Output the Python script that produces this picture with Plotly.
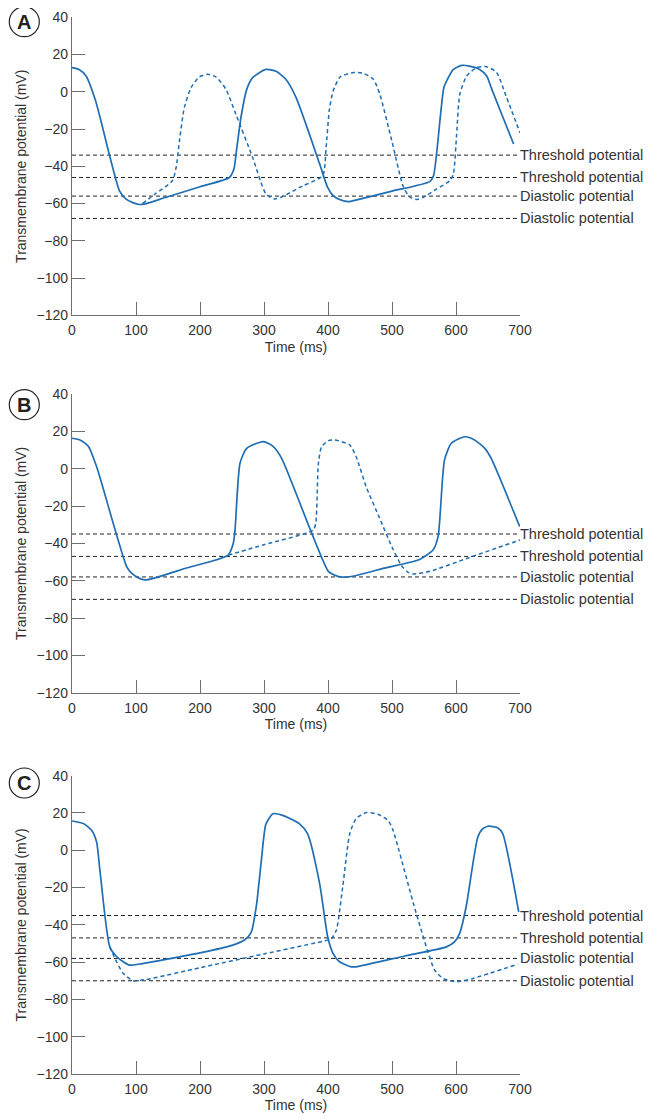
import plotly.graph_objects as go

# ---------------- data ----------------
# Panel A
a_solid_t = [0, 11, 22, 37, 74, 84, 95, 105, 116, 147, 200, 246, 253, 257, 264, 273, 282, 303, 319, 334, 350,
             387, 399, 408, 419, 432, 445, 500, 559, 565, 581, 588, 596, 609, 621, 637, 648, 656, 690]
a_solid_v = [13, 12, 8.5, -5, -53, -57.5, -59.5, -60.5, -60, -56.6, -51, -46, -41.5, -31.6, -13.8, 1.3, 7.5, 12, 11,
             6.7, -3, -38.8, -51, -55.7, -58, -59, -58, -53.3, -48.2, -45, 2.2, 7.6, 12, 14.2, 13.8, 12, 8.5, 1.3, -28]
a_dash_t = [110, 130, 157, 163, 168, 175.5, 186, 199, 212, 225, 240.6, 256, 282, 303, 316, 326.6, 360, 391.7, 397,
            402, 408, 419, 440, 455, 471, 481, 499.5, 517.7, 528, 539, 549, 570, 590.6, 596, 601, 606, 616.7, 632,
            648, 663.6, 679, 700]
a_dash_v = [-60, -54.8, -47.7, -40, -26, -8.5, 2.2, 8, 9.4, 8, 1.3, -12, -35, -54.8, -57.5, -56.6, -50.6, -45, -30,
            -10, 0.4, 8, 10.4, 9.9, 6.7, -1.3, -26, -51, -56.6, -57.8, -56.6, -52.1, -47.7, -44, -22.7, -1.3, 8.5,
            13, 13.5, 10.3, -3, -22]
a_levels = [-34, -46, -56, -68]

# Panel B
b_solid_t = [0, 12.5, 25.5, 38.5, 85.4, 93, 104, 114, 127, 180, 244, 252, 254.7, 262.5, 273, 299, 314.6, 327.6,
             400.5, 410, 418, 434, 490, 543, 564, 572, 582, 592.7, 613.5, 629, 645, 655, 699.5]
b_solid_v = [16.3, 15.4, 12, 1, -52.5, -56, -58.5, -59.6, -58.8, -53.1, -46.3, -40, -33, 2.9, 10.9, 14.5, 11.8, 5.5,
             -55, -57, -57.9, -57.9, -53.1, -48.6, -43.6, -36.4, 4.6, 13.6, 17.1, 15.4, 10.9, 5.5, -31]
b_dash_t = [244, 300, 377, 381, 385, 390, 400.5, 410.4, 434, 444, 460, 480, 500, 515, 525, 533, 559, 620, 700]
b_dash_v = [-46.3, -40.7, -32.9, -29, 2.9, 11.8, 15, 15.4, 12.7, 6.4, -10, -26, -42, -52, -55.5, -56.4, -55, -47.7,
            -38.2]
b_levels = [-35, -47, -58, -70]

# Panel C
c_solid_t = [0, 17.7, 30.6, 38.4, 43.6, 59, 69.6, 80, 90, 106, 200, 250, 270, 280, 288, 296, 303, 314, 329, 355,
             368, 387, 399.5, 408, 418, 436.5, 444, 520, 585, 598, 605.7, 616, 634, 642, 650, 665.6, 673, 698]
c_solid_v = [15.7, 14.3, 10.7, 4.5, -10.7, -51.8, -57, -59.8, -61.6, -61, -55, -51, -48, -44, -30, -5, 14, 19.6,
             18.75, 14.3, 8.9, -18, -46.4, -55.4, -59.8, -62.5, -62.5, -56.7, -51.8, -49, -44.6, -30, 7, 11.6, 12.9,
             12, 8.9, -33]
c_dash_t = [59, 70, 80, 95.6, 116, 200, 300, 399.5, 405, 413, 423, 434, 444, 460, 478, 494, 501.6, 538, 566.7, 580,
            600.5, 626.6, 697]
c_dash_v = [-51.8, -60, -66, -70, -69.3, -63, -55.6, -48.2, -47.5, -42.9, -19.6, 8.9, 17, 20.2, 19.3, 16, 10.7, -34,
            -64.3, -68.75, -70.5, -68.75, -61]
c_levels = [-35, -47, -58, -70]

level_labels = ["Threshold potential", "Threshold potential", "Diastolic potential", "Diastolic potential"]
panel_letters = ["A", "B", "C"]
x_ticks = [0, 100, 200, 300, 400, 500, 600, 700]
y_ticks = [40, 20, 0, -20, -40, -60, -80, -100, -120]

# ---------------- layout geometry ----------------
# the page body adds an 8px margin, so the figure is 8px smaller and all pixel positions are shifted by 8
OFF = 8
W, H = 651 - OFF, 1119 - OFF
ML, MR, MT, MB = 72 - OFF, 131, 17 - OFF, 45
PH = H - MT - MB
PW = W - ML - MR
panel_px = [(17.3, 315.3), (394, 692.7), (775.7, 1074)]  # top, bottom in page pixels
circle_px = [(24.3, 21.7), (24.3, 404.7), (24.3, 783)]


def py_to_paper(p):
    return (H - MB - (p - OFF)) / PH


def px_to_paper(p):
    return (p - OFF - ML) / PW


BLUE = "#1f6db3"
AXIS = "#6e6e6e"
TXT = "#333333"
FONT = "Liberation Sans, Arial, sans-serif"

fig = go.Figure()
panels = [
    (a_solid_t, a_solid_v, a_dash_t, a_dash_v, a_levels),
    (b_solid_t, b_solid_v, b_dash_t, b_dash_v, b_levels),
    (c_solid_t, c_solid_v, c_dash_t, c_dash_v, c_levels),
]

annotations = []
shapes = []
for i, (st, sv, dt, dv, levels) in enumerate(panels):
    xa = "x" if i == 0 else f"x{i+1}"
    ya = "y" if i == 0 else f"y{i+1}"
    for lv, lab in zip(levels, level_labels):
        fig.add_trace(go.Scatter(x=[0, 697], y=[lv, lv], mode="lines", xaxis=xa, yaxis=ya,
                                 line=dict(color="#222222", width=1, dash="4px,3px"),
                                 showlegend=False, hoverinfo="skip"))
        annotations.append(dict(x=700, y=lv, xref=xa, yref=ya, text=lab, showarrow=False,
                                xanchor="left", yanchor="middle", xshift=-2,
                                font=dict(size=14.5, color=TXT, family=FONT)))
    fig.add_trace(go.Scatter(x=dt, y=dv, mode="lines", xaxis=xa, yaxis=ya,
                             line=dict(color=BLUE, width=1.5, dash="4px,3px", shape="spline", smoothing=0.6),
                             showlegend=False))
    fig.add_trace(go.Scatter(x=st, y=sv, mode="lines", xaxis=xa, yaxis=ya,
                             line=dict(color=BLUE, width=1.7, shape="spline", smoothing=0.6),
                             showlegend=False))

    top, bot = panel_px[i]
    dom = [py_to_paper(bot), py_to_paper(top)]
    axis_common = dict(showline=True, linecolor=AXIS, linewidth=1.3, ticks="inside", ticklen=13,
                       tickcolor=AXIS, tickwidth=1.3, showgrid=False, zeroline=False, automargin=False,
                       tickfont=dict(size=14, color=TXT, family=FONT))
    xkey = "xaxis" if i == 0 else f"xaxis{i+1}"
    ykey = "yaxis" if i == 0 else f"yaxis{i+1}"
    fig.update_layout({
        xkey: dict(axis_common, range=[0, 700], tickvals=x_ticks, anchor=ya, domain=[0, 1],
                   title=dict(text="Time (ms)", font=dict(size=14, color=TXT, family=FONT), standoff=4),
                   ticklabelstandoff=2),
        ykey: dict(axis_common, range=[-120, 40], tickvals=y_ticks, anchor=xa, domain=dom,
                   tickformat="d",
                   title=dict(text="Transmembrane potential (mV)", font=dict(size=14, color=TXT, family=FONT),
                              standoff=6)),
    })

    cx, cy = circle_px[i]
    pxp = px_to_paper(cx)
    pyp = py_to_paper(cy)
    shapes.append(dict(type="circle", xref="paper", yref="paper", xsizemode="pixel", ysizemode="pixel",
                       xanchor=pxp, yanchor=pyp, x0=-15, x1=15, y0=-15, y1=15,
                       line=dict(color="#222222", width=1.2)))
    annotations.append(dict(x=pxp, y=pyp, xref="paper", yref="paper", text=f"<b>{panel_letters[i]}</b>",
                            showarrow=False, xanchor="center", yanchor="middle",
                            font=dict(size=20, color="#222222", family=FONT)))

fig.update_layout(width=W, height=H, margin=dict(l=ML, r=MR, t=MT, b=MB, autoexpand=False),
                  paper_bgcolor="white", plot_bgcolor="white", annotations=annotations, shapes=shapes,
                  font=dict(family=FONT, color=TXT))
fig.write_html("out.html")
